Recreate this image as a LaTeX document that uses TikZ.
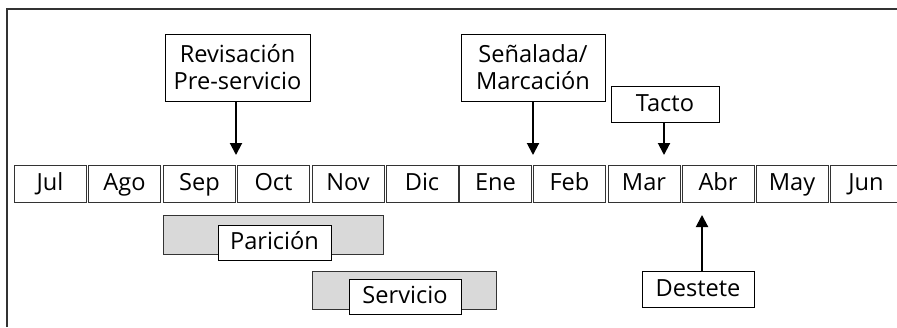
\documentclass[tikz,border=0pt]{standalone}
\usepackage{fontspec}
\setmainfont{Open Sans}
\usetikzlibrary{arrows.meta}

\begin{document}
\begin{tikzpicture}[x=0.5pt, y=-0.5pt, font=\fontsize{11.8}{13.5}\selectfont]
% Define the node styles
\tikzstyle{box} = [draw, inner sep=0pt, align=center, line width=.5pt]
\tikzstyle{oneline} = [text height=8.6pt, text depth=1.2pt]
\tikzstyle{month} = [box, oneline, minimum width=36pt, minimum height=18.5pt, draw=black!80]
\tikzstyle{event} = [box, fill=white, minimum height=18pt]
\tikzstyle{period} = [box, fill=gray!30, draw=black!80]
\tikzstyle{pointer} = [-{Triangle[length=6pt, width=6pt]}, line width=1pt]

\useasboundingbox (0,0) rectangle (897,327);

% Frame
\draw[line width=1pt, black!80] (7,327) -- (7,9) -- (897,9);

% Define the months
\node[month] (jul) at (50, 183.5) {Jul};
\node[month] (ago) at (124.5, 183.5) {Ago};
\node[month] (sep) at (199.5, 183.5) {Sep};
\node[month] (oct) at (273.5, 183.5) {Oct};
\node[month] (nov) at (348, 183.5) {Nov};
\node[month] (dic) at (422, 183.5) {Dic};
\node[month] (ene) at (495.5, 183.5) {Ene};
\node[month] (feb) at (569.5, 183.5) {Feb};
\node[month] (mar) at (644, 183.5) {Mar};
\node[month] (abr) at (718, 183.5) {Abr};
\node[month] (may) at (792, 183.5) {May};
\node[month] (jun) at (866, 183.5) {Jun};

% Define the events
\node[event, minimum width=72.5pt, minimum height=33.5pt] (rev) at (237.5, 67.5) {Revisación\\Pre-servicio};
\node[event, minimum width=72pt, minimum height=33.5pt] (senal) at (533, 67.5) {Señalada/\\Marcación};
\node[event, oneline, minimum width=54pt] (tacto) at (665, 104.5) {Tacto};
\node[event, oneline, minimum width=56pt] (dest) at (698, 289) {Destete};

\coordinate (revpt) at (236, 155);
\coordinate (senalpt) at (533, 155);
\coordinate (tactopt) at (664, 155);
\coordinate (destpt) at (702, 215);

% Define the periods
\node[period, minimum width=110pt, minimum height=19.5pt] (paribar) at (273, 234.5) {};
\node[event, oneline, minimum width=56.5pt, minimum height=17.5pt] (pari) at (274.5, 242.5) {Parición};
\node[period, minimum width=92pt, minimum height=19pt] (servbar) at (404, 290) {};
\node[event, oneline, minimum width=56pt, minimum height=17.5pt] (serv) at (405, 296.5) {Servicio};

% Define the arrows
\draw[pointer] (rev.south -| revpt) -- (revpt);
\draw[pointer] (senal.south -| senalpt) -- (senalpt);
\draw[pointer] (tacto.south -| tactopt) -- (tactopt);
\draw[pointer] (dest.north -| destpt) -- (destpt);

\end{tikzpicture}
\end{document}
